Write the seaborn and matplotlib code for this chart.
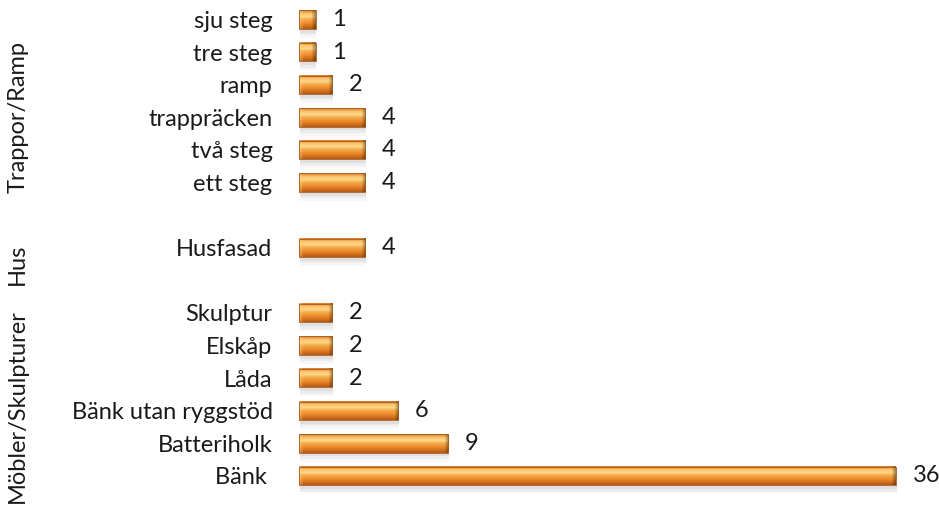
import numpy as np
import pandas as pd
import matplotlib.pyplot as plt
import matplotlib.transforms as mtransforms
from matplotlib.colors import to_rgb
from matplotlib.patches import Rectangle
import seaborn as sns

# data, uppifrån och ned
objekt = ['sju steg', 'tre steg', 'ramp', 'trappräcken', 'två steg', 'ett steg',
          'Husfasad',
          'Skulptur', 'Elskåp', 'Låda', 'Bänk utan ryggstöd', 'Batteriholk', 'Bänk ']
antal = [1, 1, 2, 4, 4, 4,
         4,
         2, 2, 2, 6, 9, 36]
# tomma rader mellan grupperna
ordning = objekt[:6] + [' '] + objekt[6:7] + ['  '] + objekt[7:]
grupper = ['Trappor/Ramp', 'Hus', 'Möbler/Skulpturer']
grupp_y = [3.0, 7.5, 11.85]

sns.set_theme(style='white')
plt.rcParams['font.family'] = ['Lato', 'DejaVu Sans']
fs = 17

df = pd.DataFrame({'objekt': objekt, 'antal': antal})

px = 16.58  # pixlar per enhet
fig = plt.figure(figsize=(9.39, 5.11), dpi=100)
ax = fig.add_axes([299 / 939, 0.0366, 38 * px / 939, 0.957])
sns.barplot(data=df, x='antal', y='objekt', order=ordning, orient='h',
            color='#F0963A', width=0.56, errorbar=None, ax=ax)

# gradient för varje stapel
topp = [to_rgb(c) for c in ['#D9782A', '#FBC266', '#FDD88A', '#F5A847', '#EE8E30', '#D8741E', '#B25A14']]
pos = np.linspace(0, 1, len(topp))
rows = 40
t = np.linspace(0, 1, rows)
vert = np.stack([np.interp(t, pos, [c[i] for c in topp]) for i in range(3)], axis=1)

for p in list(ax.patches):
    x0, y0, w, h = p.get_x(), p.get_y(), p.get_width(), p.get_height()
    if w <= 0:
        continue
    # skugga
    for k, a in zip([0.12, 0.2, 0.28], [0.10, 0.08, 0.05]):
        ax.add_patch(Rectangle((x0 + 0.05, y0 + k), w, h, color='#707070',
                               alpha=a, lw=0, zorder=1))
    cols = max(int(w * px), 4)
    img = np.repeat(vert[:, None, :], cols, axis=1)
    edge = 4
    for j in range(min(edge, cols)):
        f = 1 - j / edge
        img[:, j, :] = img[:, j, :] * (1 - 0.45 * f) + np.array([1.0, 0.85, 0.55]) * 0.45 * f
        img[:, cols - 1 - j, :] = img[:, cols - 1 - j, :] * (1 - 0.35 * f)
    ax.imshow(img, extent=(x0, x0 + w, y0 + h, y0), aspect='auto',
              origin='upper', zorder=3, interpolation='bilinear')
    ax.add_patch(Rectangle((x0, y0), w, h, fill=False, ec='#A85A1E', lw=0.6, zorder=4))
    p.set_visible(False)
    ax.annotate(str(int(w)), xy=(x0 + w, y0 + h / 2), xytext=(12, 0),
                textcoords='offset points', va='center', ha='left',
                fontsize=fs, color='#1a1a1a', annotation_clip=False)

ax.set_xlim(0, 38)
ax.set_ylim(len(ordning) - 0.5, -0.5)
ax.set_xticks([])
ax.set_xlabel('')
ax.set_ylabel('')
ax.tick_params(axis='y', length=0, pad=19, labelsize=fs, labelcolor='#1a1a1a')
sns.despine(ax=ax, left=True, bottom=True)

trans = mtransforms.blended_transform_factory(fig.transFigure, ax.transData)
for g, y in zip(grupper, grupp_y):
    ax.text(0.019, y, g, transform=trans, rotation=90, ha='center', va='center',
            fontsize=fs, color='#1a1a1a', clip_on=False)

fig.savefig('out.png', dpi=100)
